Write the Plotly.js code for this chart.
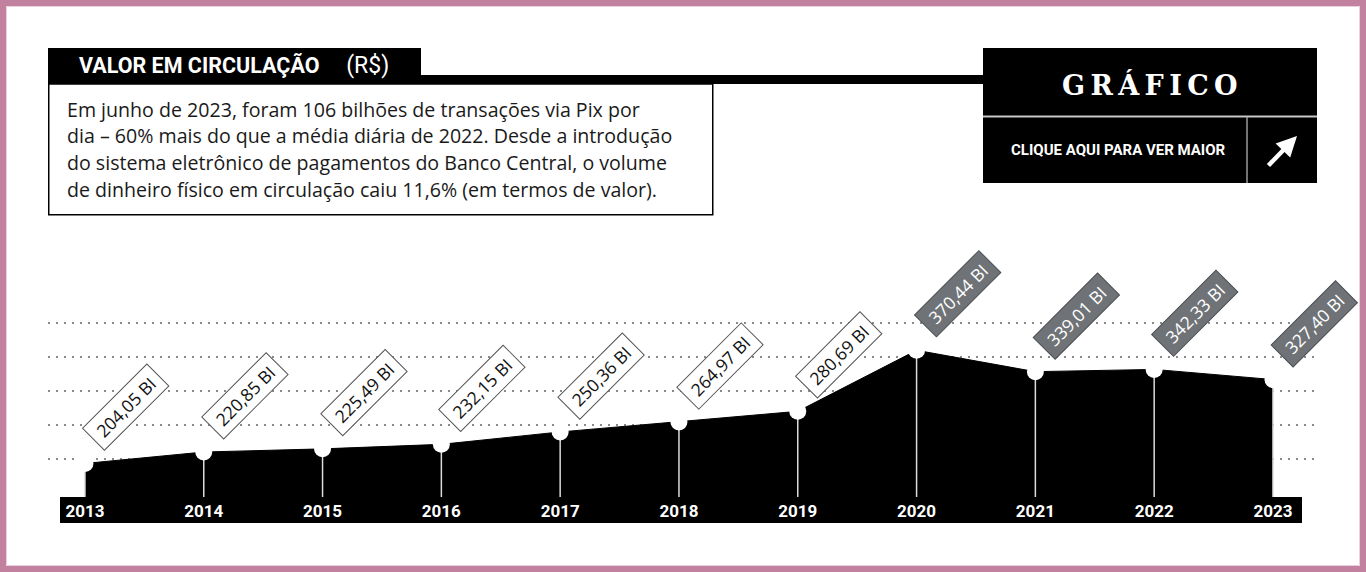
<!DOCTYPE html>
<html>
<head>
<meta charset="utf-8">
<script src="https://cdn.plot.ly/plotly-3.0.1.min.js"></script>
<style>
  html, body { margin: 0; padding: 0; background: #ffffff; }
  #chart { width: 1366px; height: 572px; }
</style>
</head>
<body>
<div id="chart"></div>
<script>
// Valor do dinheiro físico em circulação, em bilhões de R$
const years = [2013, 2014, 2015, 2016, 2017, 2018, 2019, 2020, 2021, 2022, 2023];
const values = [204.05, 220.85, 225.49, 232.15, 250.36, 264.97, 280.69, 370.44, 339.01, 342.33, 327.40];
const yearLabels = ['2013', '2014', '2015', '2016', '2017', '2018', '2019', '2020', '2021', '2022', '2023'];
// Anos a partir dos quais a etiqueta fica em cinza (pós-Pix)
const pixStartYear = 2020;
const gridVals = [210, 260, 310, 360, 410];

const titleText = '<b>VALOR EM CIRCULAÇÃO</b>&nbsp;&nbsp;&nbsp;&nbsp;&nbsp;<span style="font-size:23px">(R$)</span>';
const bodyLines = [
  'Em junho de 2023, foram 106 bilhões de transações via Pix por',
  'dia – 60% mais do que a média diária de 2022. Desde a introdução',
  'do sistema eletrônico de pagamentos do Banco Central, o volume',
  'de dinheiro físico em circulação caiu 11,6% (em termos de valor).'
];

// Geometria da figura (px)
const FIG_W = 1366, FIG_H = 572;
const M = { l: 48, r: 48, t: 300, b: 75 };
const PW = FIG_W - M.l - M.r, PH = FIG_H - M.t - M.b;
const px = p => (p - M.l) / PW;           // pixel x -> paper
const py = p => (FIG_H - M.b - p) / PH;   // pixel y -> paper
const xRange = [2012.689, 2023.379];
const yRange = [154.7, 444.4];

const fmt = v => v.toFixed(2).replace('.', ',') + ' BI';

const area = {
  type: 'scatter', mode: 'lines', x: years, y: values,
  fill: 'tozeroy', fillcolor: '#000000',
  line: { color: '#000000', width: 1 },
  hoverinfo: 'skip', showlegend: false
};

const points = {
  type: 'scatter', mode: 'markers', x: years, y: values,
  marker: { color: '#ffffff', size: 17, line: { width: 0 } },
  error_y: {
    type: 'data', symmetric: false,
    array: values.map(() => 0),
    arrayminus: values.map(v => v - yRange[0]),
    color: '#dcdcdc', thickness: 1.5, width: 0
  },
  cliponaxis: false, hoverinfo: 'skip', showlegend: false
};

const annotations = [];

// Etiquetas de valor, inclinadas
years.forEach((yr, i) => {
  const dark = yr >= pixStartYear;
  annotations.push({
    x: yr, y: values[i], xref: 'x', yref: 'y',
    text: '&nbsp;' + fmt(values[i]) + '&nbsp;',
    showarrow: false, textangle: -45,
    xanchor: 'center', yanchor: 'middle',
    xshift: 41, yshift: 56,
    font: { family: 'Open Sans, sans-serif', size: 17.5, color: dark ? '#ffffff' : '#111111' },
    bgcolor: dark ? '#6f7377' : '#ffffff',
    bordercolor: dark ? '#4a4d50' : '#555555',
    borderwidth: 1, borderpad: 3
  });
});

// Cabeçalho
annotations.push({
  x: px(77), y: py(65), xref: 'paper', yref: 'paper',
  xanchor: 'left', yanchor: 'middle', showarrow: false,
  text: titleText,
  font: { family: 'Roboto, sans-serif', size: 21.5, color: '#ffffff' }
});
bodyLines.forEach((line, i) => {
  annotations.push({
    x: px(65), y: py(109 + i * 26.7), xref: 'paper', yref: 'paper',
    xanchor: 'left', yanchor: 'middle', showarrow: false,
    text: line,
    font: { family: 'Open Sans, sans-serif', size: 19.6, color: '#1a1a1a' }
  });
});
annotations.push({
  x: px(1150), y: py(85), xref: 'paper', yref: 'paper',
  xanchor: 'center', yanchor: 'middle', showarrow: false,
  text: 'G\u2009R\u2009Á\u2009F\u2009I\u2009C\u2009O',
  font: { family: 'DejaVu Serif, serif', size: 27, color: '#ffffff', weight: 'bold' }
});
annotations.push({
  x: px(1118), y: py(150), xref: 'paper', yref: 'paper',
  xanchor: 'center', yanchor: 'middle', showarrow: false,
  text: 'CLIQUE AQUI PARA VER MAIOR',
  font: { family: 'Roboto, sans-serif', size: 15, color: '#ffffff', weight: 'bold' }
});
annotations.push({
  x: px(1297), y: py(136), xref: 'paper', yref: 'paper',
  ax: -30, ay: 31, axref: 'pixel', ayref: 'pixel',
  text: '', showarrow: true,
  arrowhead: 2, arrowsize: 0.9, arrowwidth: 4.5, arrowcolor: '#ffffff'
});

const rectPx = (x0, y0, x1, y1, extra) => Object.assign({
  type: 'rect', xref: 'paper', yref: 'paper',
  x0: px(x0), x1: px(x1), y0: py(y1), y1: py(y0)
}, extra);
const linePx = (x0, y0, x1, y1, extra) => Object.assign({
  type: 'line', xref: 'paper', yref: 'paper',
  x0: px(x0), x1: px(x1), y0: py(y0), y1: py(y1)
}, extra);

const shapes = [
  // moldura
  rectPx(3, 3, FIG_W - 3, FIG_H - 3, { line: { color: '#c1819f', width: 6 }, layer: 'below' }),
  rectPx(6.5, 6.5, FIG_W - 6.5, FIG_H - 6.5, { line: { color: '#ead0dd', width: 1 }, layer: 'below' }),
  // título
  rectPx(48, 48, 421, 84, { fillcolor: '#000000', line: { width: 0 }, layer: 'below' }),
  rectPx(421, 75, 983, 84, { fillcolor: '#000000', line: { width: 0 }, layer: 'below' }),
  rectPx(48.75, 84, 712.75, 214.75, { fillcolor: '#ffffff', line: { color: '#000000', width: 1.5 }, layer: 'below' }),
  // botão gráfico
  rectPx(983, 48, 1317, 183, { fillcolor: '#000000', line: { width: 0 }, layer: 'below' }),
  linePx(983, 116.5, 1317, 116.5, { line: { color: '#c8c8c8', width: 2 }, layer: 'below' }),
  linePx(1247, 117, 1247, 183, { line: { color: '#9a9a9a', width: 1.5 }, layer: 'below' }),
  // faixa dos anos
  rectPx(60, 497, 1302, 523, { fillcolor: '#000000', line: { width: 0 }, layer: 'below' })
];

const layout = {
  width: FIG_W, height: FIG_H,
  margin: M,
  paper_bgcolor: '#ffffff', plot_bgcolor: '#ffffff',
  showlegend: false, hovermode: false,
  xaxis: {
    range: xRange, fixedrange: true,
    showgrid: false, zeroline: false, showline: false,
    ticks: '', tickmode: 'array', tickvals: years, ticktext: yearLabels,
    tickfont: { family: 'Roboto, sans-serif', size: 17, color: '#ffffff', weight: 'bold' },
    ticklabelstandoff: 2
  },
  yaxis: {
    range: yRange, fixedrange: true,
    showgrid: true, gridcolor: '#8a8a8a', gridwidth: 2, griddash: '2px,6px',
    tickmode: 'array', tickvals: gridVals,
    showticklabels: false, zeroline: false, showline: false, ticks: ''
  },
  shapes: shapes,
  annotations: annotations
};

Plotly.newPlot('chart', [area, points], layout, { displayModeBar: false, staticPlot: true });
</script>
</body>
</html>
